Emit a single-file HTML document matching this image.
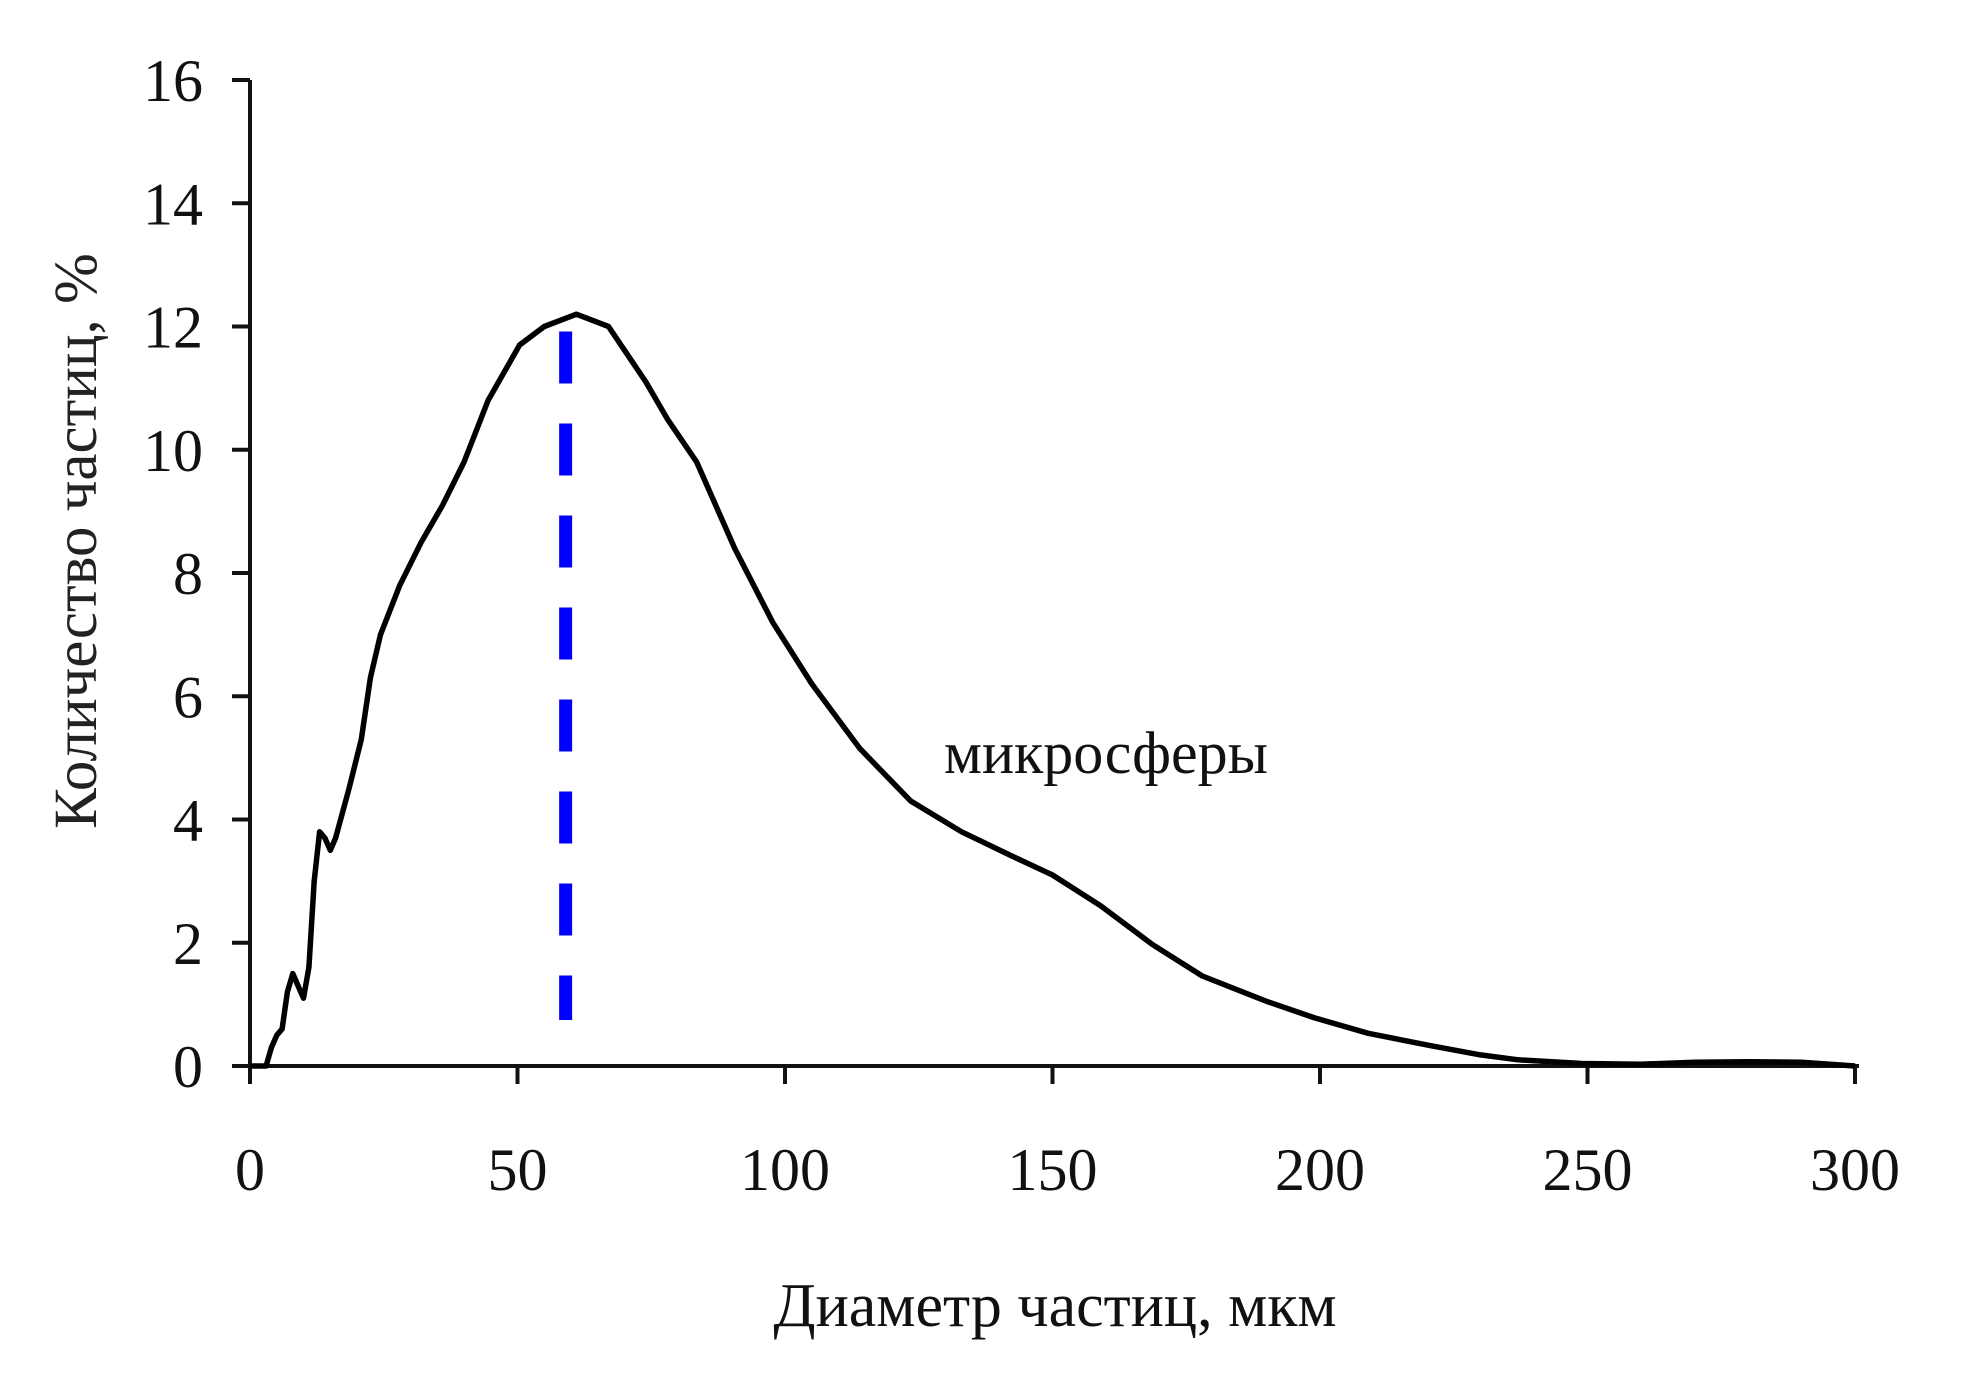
<!DOCTYPE html>
<html><head><meta charset="utf-8"><style>
html,body{margin:0;padding:0;background:#fff;}
svg{display:block;font-family:"Liberation Serif",serif;}
</style></head><body>
<svg id="chart" width="1985" height="1385" viewBox="0 0 1985 1385">
<g id="axes"></g><g id="marks"></g>
<text x="1055" y="1326" font-size="62" text-anchor="middle" fill="#111">Диаметр частиц, мкм</text>
<text transform="translate(96,541) rotate(-90)" font-size="61" text-anchor="middle" fill="#222">Количество частиц, %</text>
<text x="944" y="773" font-size="60" fill="#111">микросферы</text>
</svg>
<script>
const xTicks=[0,50,100,150,200,250,300];
const yTicks=[0,2,4,6,8,10,12,14,16];
const xs=[0,3,4,5,6,7,8,9,10,11,12,13,14,15,16,18.5,20.8,22.5,24.4,28,32,36,40,44.5,50.4,55,61,67,74,78,83.5,90.6,97.7,105,114,123.5,133,142.6,150,159,168.7,178,190,199,209,220.7,230,237,249,260,270,280,290,300];
const ys=[0,0,0.3,0.5,0.6,1.2,1.5,1.3,1.1,1.6,3.0,3.8,3.7,3.5,3.7,4.5,5.3,6.3,7.0,7.8,8.5,9.1,9.8,10.8,11.7,12.0,12.2,12.0,11.1,10.5,9.8,8.4,7.2,6.2,5.15,4.3,3.8,3.4,3.1,2.6,1.97,1.46,1.05,0.78,0.53,0.33,0.18,0.1,0.04,0.03,0.06,0.07,0.06,0];
const modeX=[59];
const modeTop=[12];
const X0=250,X1=1855,Y0=1066,Y1=80;
const sx=v=>X0+(v-0)/(300-0)*(X1-X0);
const sy=v=>Y0-(v-0)/(16-0)*(Y0-Y1);
const NS="http://www.w3.org/2000/svg";
const axes=document.getElementById('axes'),marks=document.getElementById('marks');
function mk(tag,attrs,parent){const e=document.createElementNS(NS,tag);for(const k in attrs)e.setAttribute(k,attrs[k]);parent.appendChild(e);return e;}
let e=mk('line',{x1:X0,y1:Y0,x2:X1+4,y2:Y0,stroke:'#111','stroke-width':4},axes);


e=mk('line',{x1:X0,y1:Y1,x2:X0,y2:Y0+18,stroke:'#111','stroke-width':4},axes);


xTicks.forEach(t=>{
  const l=mk('line',{x1:sx(t),y1:Y0,x2:sx(t),y2:Y0+18,stroke:'#111','stroke-width':4},axes);
  
  
  const tx=mk('text',{x:sx(t),y:1190,'font-size':60,'text-anchor':'middle',fill:'#111'},axes);
  tx.textContent=t;
  
  
});
yTicks.forEach(t=>{
  const l=mk('line',{x1:X0-18,y1:sy(t),x2:X0,y2:sy(t),stroke:'#111','stroke-width':4},axes);
  
  
  const tx=mk('text',{x:203,y:sy(t)+21,'font-size':60,'text-anchor':'end',fill:'#111'},axes);
  tx.textContent=t;
  
  
});
const pts=xs.map((x,i)=>sx(x).toFixed(1)+','+sy(ys[i]).toFixed(1)).join(' ');
e=mk('polyline',{points:pts,fill:'none',stroke:'#000','stroke-width':5.5,'stroke-linejoin':'round'},marks);


modeX.forEach((m,i)=>{
  const d=mk('line',{x1:sx(m),y1:sy(modeTop[i])+5,x2:sx(m),y2:1020,stroke:'#0000ff','stroke-width':13,'stroke-dasharray':'52 40'},marks);
  
  
});
</script>
</body></html>
